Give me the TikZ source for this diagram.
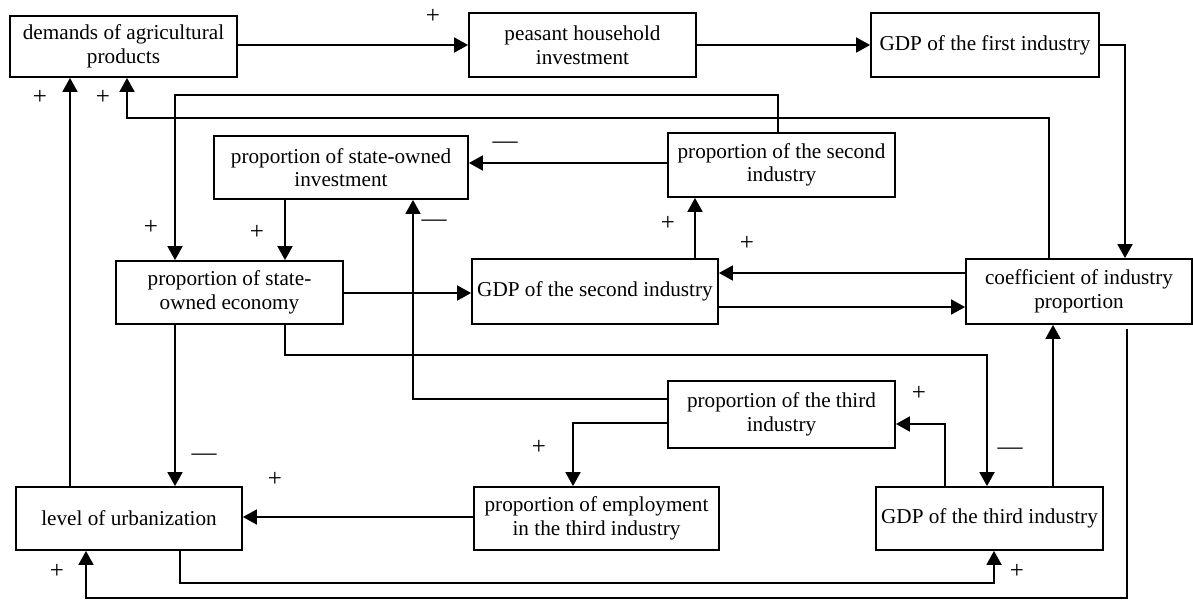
\documentclass[tikz,border=0pt]{standalone}
\usepackage{fontspec}
\setmainfont{Liberation Serif}
\usetikzlibrary{arrows.meta,calc}
\begin{document}
\begin{tikzpicture}[x=0.5pt,y=-0.5pt,
  box/.style={draw,line width=0.9pt,align=center,inner sep=0pt,font=\fontsize{10.6}{11.8}\selectfont},
  arr/.style={line width=0.9pt,-{Triangle[length=7pt,width=7.5pt]}},
  sg/.style={inner sep=0pt,font=\fontsize{12.5}{12.5}\selectfont}]
\useasboundingbox (0,0) rectangle (1193,600);
\node[box,minimum width=113.5pt,minimum height=30.5pt] (dap) at (123.5,46.5) {demands of agricultural\\products};
\node[box,minimum width=113.5pt,minimum height=32pt] (phi) at (582.5,45) {peasant household\\investment};
\node[box,minimum width=114pt,minimum height=32pt] (gdp1) at (985,45) {GDP of the first industry};
\node[box,minimum width=127pt,minimum height=31.5pt] (psoi) at (341,167.5) {proportion of state-owned\\investment};
\node[box,minimum width=113.5pt,minimum height=32pt] (p2) at (781.5,165) {proportion of the second\\industry};
\node[box,minimum width=113.5pt,minimum height=31.5pt] (psoe) at (229.5,292.5) {proportion of state-\\owned economy};
\node[box,minimum width=123pt,minimum height=32.5pt] (gdp2) at (595,291.5) {GDP of the second industry};
\node[box,minimum width=113pt,minimum height=32.5pt] (cip) at (1079,291.5) {coefficient of industry\\proportion};
\node[box,minimum width=113.5pt,minimum height=33.5pt] (p3) at (781.5,414.5) {proportion of the third\\industry};
\node[box,minimum width=113pt,minimum height=31.5pt] (lou) at (129,518.5) {level of urbanization};
\node[box,minimum width=122.5pt,minimum height=31.5pt] (pe3) at (596.5,518.5) {proportion of employment\\in the third industry};
\node[box,minimum width=113.5pt,minimum height=31.5pt] (gdp3) at (989.5,518.5) {GDP of the third industry};

% connectors
\draw[arr] (dap.east |- phi.west) -- (phi.west);
\draw[arr] (phi.east) -- (gdp1.west);
\draw[arr] (gdp1.east) -| ($(cip.north)+(46,0)$);
\draw[arr] ($(cip.north)+(-30,0)$) |- ($(dap.south)+(3.5,40)$) -- ($(dap.south)+(3.5,0)$);
\draw[arr] ($(p2.north)+(-3.5,0)$) |- ($(psoe.north)+(-54.5,-165)$) -- ($(psoe.north)+(-54.5,0)$);
\draw[arr] ($(p2.west)+(0,-2)$) coordinate (t1) -- (t1 -| psoi.east);
\draw[arr] ($(psoi.south)+(-56,0)$) coordinate (t2) -- (t2 |- psoe.north);
\draw[arr] ($(gdp2.north)+(100,0)$) coordinate (t3) -- (t3 |- p2.south);
\draw[arr] ($(cip.west)+(0,-18.5)$) coordinate (t4) -- (t4 -| gdp2.east);
\draw[arr] ($(gdp2.east)+(0,15.5)$) coordinate (t5) -- (t5 -| cip.west);
\draw[arr] ($(psoe.east)+(0,0.5)$) coordinate (t10) -- (t10 -| gdp2.west);
\draw[arr] ($(psoe.south)+(55.5,0)$) -- ++(0,30) -| ($(gdp3.north)+(-2.5,0)$);
\draw[arr] ($(p3.west)+(0,-15.5)$) -| ($(psoi.south)+(72,0)$);
\draw[arr] ($(p3.west)+(0,8.5)$) -| ($(pe3.north)+(-23.5,0)$);
\draw[arr] ($(pe3.west)+(0,-1.5)$) coordinate (t6) -- (t6 -| lou.east);
\draw[arr] ($(psoe.south)+(-54.5,0)$) coordinate (t7) -- (t7 |- lou.north);
\draw[arr] ($(lou.north)+(-59,0)$) coordinate (t8) -- (t8 |- dap.south);
\draw[arr] ($(lou.south)+(51,0)$) -- ++(0,32) -| ($(gdp3.south)+(4.5,0)$);
\draw[arr] ($(cip.south)+(48,4)$) |- ($(lou.south)+(-43,47)$) -- ($(lou.south)+(-43,0)$);
\draw[arr] ($(gdp3.north)+(-44.5,0)$) |- ($(p3.east)+(0,9.5)$);
\draw[arr] ($(gdp3.north)+(63.5,0)$) coordinate (t9) -- (t9 |- cip.south);

% signs
\node[sg] (s1) at (433,16) {+};
\node[sg] (s2) at (40,97) {+};
\node[sg] (s3) at (103,97) {+};
\node[sg] (s4) at (505,145) {—};
\node[sg] (s5) at (151,227) {+};
\node[sg] (s6) at (257,232) {+};
\node[sg] (s7) at (434,223) {—};
\node[sg] (s8) at (668,223) {+};
\node[sg] (s9) at (747,243) {+};
\node[sg] (s10) at (919,393) {+};
\node[sg] (s11) at (1010,451) {—};
\node[sg] (s12) at (1017,571) {+};
\node[sg] (s13) at (204,457) {—};
\node[sg] (s14) at (275,479) {+};
\node[sg] (s15) at (57,571) {+};
\node[sg] (s16) at (539,447) {+};
\end{tikzpicture}
\end{document}
